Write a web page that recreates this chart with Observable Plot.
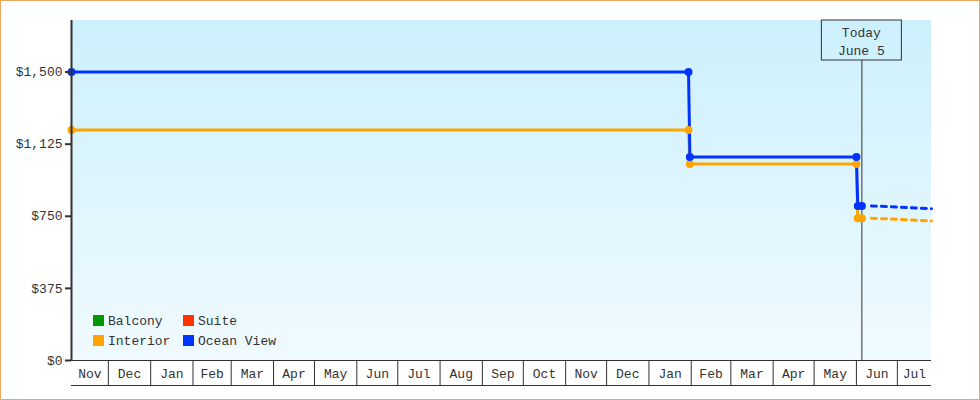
<!DOCTYPE html>
<html><head><meta charset="utf-8">
<script src="https://cdn.jsdelivr.net/npm/d3@7"></script>
<script src="https://cdn.jsdelivr.net/npm/@observablehq/plot@0.6"></script>
<style>
body{margin:0;background:#fff}
#chart svg{display:block;outline:1px solid #e8a860;outline-offset:-1px}
</style></head><body><div id="chart"></div>
<script>
// ---- data ----
const seriesNames = ["Balcony", "Suite", "Interior", "Ocean View"];
const seriesColors = ["#009900", "#ff3300", "#ffa500", "#0033ff"];
const priceDates = ["2022-11-04", "2024-01-30", "2024-01-31", "2024-06-01", "2024-06-02", "2024-06-05"];
const interiorPrices = [1199, 1199, 1022, 1022, 740, 740];
const oceanViewPrices = [1500, 1500, 1058, 1058, 804, 804];
const forecastDates = ["2024-06-12", "2024-07-26"];
const interiorForecast = [740, 726];
const oceanViewForecast = [804, 789];
const monthStarts = ["2022-11-01","2022-12-01","2023-01-01","2023-02-01","2023-03-01","2023-04-01","2023-05-01","2023-06-01","2023-07-01","2023-08-01","2023-09-01","2023-10-01","2023-11-01","2023-12-01","2024-01-01","2024-02-01","2024-03-01","2024-04-01","2024-05-01","2024-06-01","2024-07-01"];
const monthLabels = ["Nov","Dec","Jan","Feb","Mar","Apr","May","Jun","Jul","Aug","Sep","Oct","Nov","Dec","Jan","Feb","Mar","Apr","May","Jun","Jul"];
const yTicks = [0, 375, 750, 1125, 1500];
const todayDate = "2024-06-05";
const todayLines = ["Today", "June 5"];
const xDomain = ["2022-11-04", "2024-07-26"];
const yMax = 1768;

// ---- build tables ----
const D = s => new Date(s + "T00:00:00Z");
const dom = xDomain.map(D);
const series = [
  {name: "Interior", color: seriesColors[2], prices: interiorPrices, fc: interiorForecast},
  {name: "Ocean View", color: seriesColors[3], prices: oceanViewPrices, fc: oceanViewForecast}
];
const pts = series.flatMap(s => priceDates.map((d, i) => ({series: s.name, color: s.color, date: D(d), price: s.prices[i]})));
const fpts = series.flatMap(s => forecastDates.map((d, i) => ({series: s.name, color: s.color, date: D(d), price: s.fc[i]})));
const months = monthStarts.map((m, i) => {
  const a = D(m);
  const b = i + 1 < monthStarts.length ? D(monthStarts[i + 1]) : new Date(Date.UTC(a.getUTCFullYear(), a.getUTCMonth() + 1, 1));
  const lo = a < dom[0] ? dom[0] : a, hi = b > dom[1] ? dom[1] : b;
  return {start: a, mid: new Date((+lo + +hi) / 2), label: monthLabels[i]};
});
const boundaries = months.map(m => m.start).filter(d => d > dom[0] && d < dom[1]);

const ink = "#333";
const font = "'Liberation Mono', 'DejaVu Sans Mono', monospace";

const background = (index, scales, values, dim) => {
  const g = d3.create("svg:g");
  const grad = g.append("defs").append("linearGradient").attr("id", "bg").attr("x1", 0).attr("y1", 0).attr("x2", 0).attr("y2", 1);
  grad.append("stop").attr("offset", "0%").attr("stop-color", "#ccf0fc");
  grad.append("stop").attr("offset", "100%").attr("stop-color", "#f0faff");
  g.append("rect").attr("x", dim.marginLeft).attr("y", dim.marginTop)
    .attr("width", dim.width - dim.marginLeft - dim.marginRight)
    .attr("height", dim.height - dim.marginTop - dim.marginBottom)
    .attr("fill", "url(#bg)");
  return g.node();
};

const todayBox = (index, scales, values, dim) => {
  const g = d3.create("svg:g");
  const x = scales.x(D(todayDate));
  g.append("rect").attr("x", x - 40).attr("y", dim.marginTop).attr("width", 80).attr("height", 40)
    .attr("fill", "none").attr("stroke", ink);
  todayLines.forEach((t, i) => g.append("text").attr("x", x).attr("y", dim.marginTop + 12 + i * 18)
    .attr("text-anchor", "middle").attr("dy", "0.35em").attr("fill", ink).text(t));
  return g.node();
};

const legend = (index, scales, values, dim) => {
  const g = d3.create("svg:g").attr("text-anchor", "start");
  const order = [0, 2, 1, 3]; // column-major: Balcony, Interior | Suite, Ocean View
  order.forEach((k, j) => {
    const col = Math.floor(j / 2), row = j % 2;
    const x0 = dim.marginLeft + 22 + col * 90, y0 = 315 + row * 20;
    g.append("rect").attr("x", x0).attr("y", y0).attr("width", 11).attr("height", 11).attr("fill", seriesColors[k]);
    g.append("text").attr("x", x0 + 15).attr("y", y0 + 5.5).attr("dy", "0.35em").attr("text-anchor", "start")
      .attr("fill", ink).text(seriesNames[k]);
  });
  return g.node();
};

const chart = Plot.plot({
  width: 980, height: 400,
  marginLeft: 71, marginRight: 49, marginTop: 20, marginBottom: 40,
  style: {fontFamily: font, fontSize: "13px", color: ink, background: "#fff", overflow: "visible"},
  x: {type: "utc", domain: dom, axis: null},
  y: {domain: [0, yMax], axis: null, label: null},
  marks: [
    background,
    Plot.ruleX([D(todayDate)], {stroke: ink, strokeWidth: 1, insetTop: 40}),
    Plot.line(pts, {x: "date", y: "price", z: "series", stroke: "color", strokeWidth: 3}),
    Plot.line(fpts, {x: "date", y: "price", z: "series", stroke: "color", strokeWidth: 3, strokeDasharray: "5,5"}),
    Plot.dot(pts, {x: "date", y: "price", fill: "color", r: 4, stroke: null}),
    todayBox,
    legend,
    Plot.ruleX([dom[0]], {stroke: ink, strokeWidth: 2}),
    Plot.ruleY([0], {stroke: ink, strokeWidth: 1}),
    Plot.ruleY([0], {stroke: ink, strokeWidth: 1, dy: 25}),
    Plot.ruleX(boundaries, {stroke: ink, strokeWidth: 1, insetTop: 340, insetBottom: -25}),
    Plot.text(months, {x: "mid", y: 0, text: "label", dy: 13, fill: ink}),
    Plot.axisY(yTicks, {tickFormat: d3.format("$,"), tickSize: 6, tickPadding: 3, stroke: ink, strokeWidth: 2, fill: ink, label: null})
  ]
});
document.getElementById("chart").append(chart);
</script></body></html>
